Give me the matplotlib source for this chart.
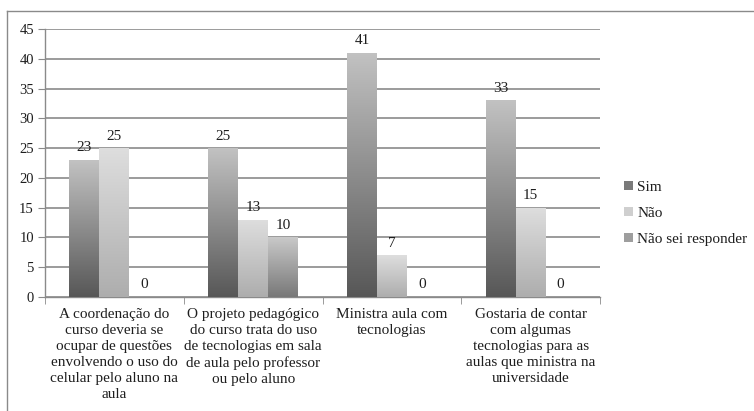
import numpy as np
import matplotlib
matplotlib.use("Agg")
import matplotlib.pyplot as plt
from matplotlib.colors import LinearSegmentedColormap
from matplotlib.lines import Line2D
from matplotlib.patches import Patch

plt.rcParams['font.family'] = ['Liberation Serif', 'DejaVu Serif']

# survey answers per question
categories = [
    "A coordenação do\ncurso deveria se\nocupar de questões\nenvolvendo o uso do\ncelular pelo aluno na\naula",
    "O projeto pedagógico\ndo curso trata do uso\nde tecnologias em sala\nde aula pelo professor\nou pelo aluno",
    "Ministra aula com\ntecnologias",
    "Gostaria de contar\ncom algumas\ntecnologias para as\naulas que ministra na\nuniversidade",
]
series_names = ["Sim", "Não", "Não sei responder"]
sim = [23, 25, 41, 33]
nao = [25, 13, 7, 15]
nao_sei = [0, 10, 0, 0]

# bottom -> top colours of each series gradient
grad_colors = [("#575757", "#c2c2c2"), ("#adadad", "#dedede"), ("#787878", "#c9c9c9")]
legend_colors = ["#7a7a7a", "#cfcfcf", "#9e9e9e"]

fig = plt.figure(figsize=(7.54, 4.11), dpi=100)
ax = fig.add_axes([45 / 754, 1 - 297 / 411, (600 - 45) / 754, (297 - 29) / 411])

x = np.arange(len(categories))
width = 0.216
grad = np.linspace(0, 1, 256).reshape(-1, 1)

for i, vals in enumerate([sim, nao, nao_sei]):
    offs = (i - 1) * width
    bars = ax.bar(x + offs, vals, width, facecolor="none", edgecolor="none", zorder=3)
    cmap = LinearSegmentedColormap.from_list("g%d" % i, grad_colors[i])
    for rect, v in zip(bars, vals):
        if v > 0:
            x0 = rect.get_x()
            im = ax.imshow(grad, cmap=cmap, origin="lower", aspect="auto",
                           extent=[x0, x0 + rect.get_width(), 0, v], zorder=3)
            im.set_clip_path(rect)
        ax.annotate(str(v), (rect.get_x() + rect.get_width() / 2, v),
                    xytext=(0, 4), textcoords="offset points",
                    ha="center", va="bottom", fontsize=11, color="#1e1e1e")

ax.set_xlim(-0.5, len(categories) - 0.5)
ax.set_ylim(0, 45)
ax.set_yticks(range(0, 46, 5))
ax.yaxis.grid(True, color="#8a8a8a", linewidth=1.2)
ax.set_axisbelow(True)

ax.set_xticks(x)
ax.set_xticklabels(categories, fontsize=11, linespacing=1.29, va="top", color="#1e1e1e")
ax.set_xticks(np.arange(-0.5, len(categories)), minor=True)
ax.tick_params(axis="x", which="major", length=0, pad=8)
ax.tick_params(axis="x", which="minor", length=5, color="#8a8a8a", direction="out")
ax.tick_params(axis="y", length=5, color="#8a8a8a", labelsize=10.5, labelcolor="#1e1e1e", pad=3)

for s in ["top", "right"]:
    ax.spines[s].set_visible(False)
for s in ["left", "bottom"]:
    ax.spines[s].set_color("#8a8a8a")
    ax.spines[s].set_linewidth(1.0)

handles = [Patch(facecolor=c, edgecolor="none") for c in legend_colors]
fig.legend(handles, series_names, loc="upper left", bbox_to_anchor=(618 / 754, 1 - 175 / 411),
           frameon=False, fontsize=11, handlelength=0.55, handleheight=0.55,
           handletextpad=0.3, labelspacing=0.85, borderaxespad=0, labelcolor="#1e1e1e")

# chart frame
fig.add_artist(Line2D([7 / 754, 7 / 754], [0, 1 - 11 / 411], color="#8a8a8a", linewidth=1.0))
fig.add_artist(Line2D([7 / 754, 1], [1 - 11 / 411, 1 - 11 / 411], color="#8a8a8a", linewidth=1.0))

fig.savefig("out.png", dpi=100)
